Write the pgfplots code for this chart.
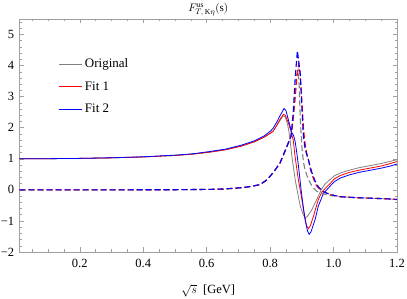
\documentclass[border=0pt]{standalone}
\usepackage{fontspec}
\setmainfont{Liberation Serif}
\usepackage{pgfplots}
\pgfplotsset{compat=1.18}
\definecolor{origgray}{RGB}{128,128,128}
\definecolor{framegray}{RGB}{160,160,160}
\definecolor{fitblue}{RGB}{0,0,255}
\definecolor{fitred}{RGB}{255,0,0}
\begin{document}
\fontsize{12.5}{15}\selectfont
\begin{tikzpicture}
\begin{axis}[
  name=ax,
  scale only axis,
  width=377.5pt, height=233pt,
  xmin=0.01, xmax=1.2, ymin=-2, ymax=5.5,
  axis line style={draw=framegray, line width=0.7pt},
  xtick={0.2,0.4,0.6,0.8,1.0,1.2},
  xticklabels={0.2,0.4,0.6,0.8,1.0,1.2},
  ytick={-2,-1,0,1,2,3,4,5},
  yticklabels={−2,−1,0,1,2,3,4,5},
  minor xtick={0.05,0.1,0.15,0.25,0.3,0.35,0.45,0.5,0.55,0.65,0.7,0.75,0.85,0.9,0.95,1.05,1.1,1.15},
  minor ytick={-1.8,-1.6,-1.4,-1.2,-0.8,-0.6,-0.4,-0.2,0.2,0.4,0.6,0.8,1.2,1.4,1.6,1.8,2.2,2.4,2.6,2.8,3.2,3.4,3.6,3.8,4.2,4.4,4.6,4.8,5.2,5.4},
  tick align=inside,
  major tick length=4.5pt,
  minor tick length=2.5pt,
  every tick/.style={framegray, line width=0.5pt},
  xticklabel style={yshift=-3pt},
  yticklabel style={xshift=-1pt},
  xlabel={$\sqrt{s}$\ \ [GeV]},
  xlabel style={yshift=-8pt},
  legend style={draw=none, fill=none, at={(rel axis cs:0.096,0.848)}, anchor=north west, row sep=8pt, font=\fontsize{13}{15}\selectfont},
  legend cell align=left,
  legend image code/.code={\draw[#1] (0pt,0pt) -- (23pt,0pt);},
]
\addlegendimage{origgray, line width=1pt}
\addlegendentry{Original}
\addlegendimage{fitred, line width=1pt}
\addlegendentry{Fit 1}
\addlegendimage{fitblue, line width=1pt}
\addlegendentry{Fit 2}
% Original (real part)
\addplot[origgray, line width=0.8pt, forget plot] coordinates {
(0.01,1.000) (0.094,1.003) (0.197,1.012) (0.299,1.03) (0.402,1.06) (0.505,1.11) (0.556,1.15) (0.607,1.21) (0.659,1.29) (0.710,1.41) (0.751,1.55) (0.782,1.70) (0.802,1.84) (0.810,1.90)
(0.823,2.10) (0.833,2.26) (0.841,2.38) (0.847,2.36) (0.854,2.15) (0.859,1.90) (0.863,1.60) (0.869,1.05) (0.879,0.33) (0.886,-0.05) (0.895,-0.52) (0.905,-0.82) (0.911,-0.90)
(0.917,-0.86) (0.925,-0.74) (0.932,-0.63) (0.937,-0.52) (0.952,-0.20) (0.962,0.02) (0.974,0.20) (0.989,0.33) (1.002,0.45) (1.021,0.54) (1.049,0.63) (1.079,0.71) (1.115,0.78) (1.151,0.85) (1.180,0.92) (1.2,0.97)
};
% Fit 1 (real part)
\addplot[fitred, line width=0.8pt, forget plot] coordinates {
(0.01,1.000) (0.094,1.003) (0.197,1.012) (0.299,1.03) (0.402,1.06) (0.505,1.11) (0.556,1.15) (0.607,1.21) (0.659,1.29) (0.710,1.41) (0.751,1.55) (0.782,1.70) (0.802,1.83) (0.810,1.89)
(0.823,2.12) (0.833,2.30) (0.842,2.43) (0.848,2.40) (0.856,2.20) (0.864,1.95) (0.873,1.60) (0.879,1.05) (0.889,0.33) (0.900,-0.30) (0.905,-0.63) (0.915,-1.16) (0.921,-1.25)
(0.927,-1.15) (0.937,-0.84) (0.952,-0.31) (0.963,-0.08) (0.975,0.06) (0.989,0.20) (1.002,0.35) (1.021,0.46) (1.049,0.56) (1.079,0.63) (1.115,0.70) (1.151,0.77) (1.180,0.85) (1.2,0.91)
};
% Fit 2 (real part)
\addplot[fitblue, line width=0.8pt, forget plot] coordinates {
(0.01,1.000) (0.094,1.003) (0.197,1.013) (0.299,1.032) (0.402,1.065) (0.505,1.12) (0.556,1.16) (0.607,1.23) (0.659,1.31) (0.710,1.44) (0.751,1.58) (0.782,1.74) (0.802,1.90) (0.810,1.99)
(0.823,2.22) (0.833,2.42) (0.844,2.62) (0.850,2.55) (0.859,2.20) (0.868,1.85) (0.874,1.75) (0.879,1.55) (0.884,1.20) (0.889,0.80) (0.900,-0.20) (0.910,-0.95) (0.918,-1.33)
(0.923,-1.43) (0.929,-1.35) (0.942,-0.95) (0.952,-0.52) (0.968,-0.12) (0.989,0.12) (1.002,0.26) (1.021,0.38) (1.049,0.48) (1.079,0.56) (1.115,0.63) (1.151,0.70) (1.180,0.77) (1.2,0.83)
};
% Original (imaginary part)
\addplot[origgray, line width=1.1pt, dash pattern=on 6pt off 3pt, forget plot] coordinates {
(0.01,0) (0.402,0.002) (0.505,0.005) (0.607,0.015) (0.659,0.03) (0.710,0.07) (0.741,0.11) (0.768,0.17) (0.787,0.30) (0.800,0.44) (0.813,0.60) (0.831,0.86) (0.843,1.15) (0.857,1.50)
(0.866,1.75) (0.872,2.20) (0.879,3.00) (0.884,3.70) (0.888,3.85) (0.892,3.30) (0.895,2.30) (0.900,1.40) (0.905,0.90) (0.910,0.65) (0.920,0.35) (0.932,0.12) (0.946,-0.04)
(0.963,-0.12) (0.987,-0.18) (1.021,-0.22) (1.069,-0.25) (1.120,-0.27) (1.172,-0.29) (1.2,-0.31)
};
% Fit 1 (imaginary part)
\addplot[fitred, line width=1.1pt, dash pattern=on 6pt off 3pt, forget plot] coordinates {
(0.01,0) (0.402,0.002) (0.505,0.005) (0.607,0.015) (0.659,0.03) (0.710,0.07) (0.741,0.11) (0.768,0.17) (0.787,0.30) (0.800,0.44) (0.813,0.60) (0.831,0.86) (0.843,1.15) (0.857,1.50)
(0.866,1.75) (0.872,2.20) (0.879,3.00) (0.884,3.60) (0.890,4.06) (0.895,3.70) (0.900,2.90) (0.905,2.00) (0.910,1.50) (0.915,1.20) (0.921,0.97) (0.928,0.62) (0.937,0.35)
(0.946,0.14) (0.956,0.02) (0.963,-0.04) (0.977,-0.10) (0.989,-0.15) (1.021,-0.22) (1.069,-0.25) (1.120,-0.27) (1.172,-0.29) (1.2,-0.31)
};
% Fit 2 (imaginary part)
\addplot[fitblue, line width=1.1pt, dash pattern=on 6pt off 3pt, forget plot] coordinates {
(0.01,0) (0.402,0.002) (0.505,0.005) (0.607,0.015) (0.659,0.03) (0.710,0.07) (0.741,0.11) (0.768,0.17) (0.787,0.30) (0.800,0.44) (0.813,0.60) (0.831,0.86) (0.843,1.15) (0.857,1.50)
(0.866,1.72) (0.873,2.50) (0.879,3.60) (0.886,4.48) (0.895,3.74) (0.900,2.67) (0.905,1.71) (0.910,1.35) (0.915,1.15) (0.921,0.95) (0.932,0.55) (0.942,0.28) (0.952,0.10)
(0.968,-0.06) (0.989,-0.15) (1.021,-0.22) (1.069,-0.25) (1.120,-0.27) (1.172,-0.29) (1.2,-0.31)
};
\end{axis}
\node[font=\fontsize{11}{13}\selectfont, anchor=center] at ([yshift=9pt]ax.north) {$F^{\mathrm{us}}_{T,\,\mathrm{K}\eta}(\mathrm{s})$};
\pgfresetboundingbox
\path[use as bounding box] ([xshift=-19.5pt,yshift=-47pt]ax.south west) rectangle ([xshift=10pt,yshift=19pt]ax.north east);
\end{tikzpicture}
\end{document}
